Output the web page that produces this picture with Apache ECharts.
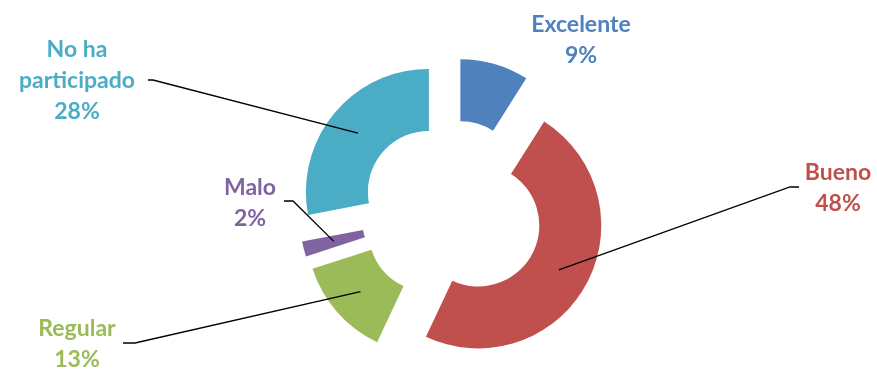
<!DOCTYPE html>
<html>
<head>
<meta charset="utf-8">
<script src="https://cdn.jsdelivr.net/npm/echarts@6/dist/echarts.min.js"></script>
<style>
  html, body { margin: 0; padding: 0; background: #fff; }
  #chart { width: 877px; height: 371px; }
</style>
</head>
<body>
<div id="chart"></div>
<script>
// datos del gráfico
const categories = ['Excelente', 'Bueno', 'Regular', 'Malo', 'No ha participado']
const labelNames = ['Excelente', 'Bueno', 'Regular', 'Malo', 'No ha\nparticipado']
const values = [9, 48, 13, 2, 28]
const colors = ['#4F81BD', '#C0504D', '#9BBB59', '#8064A2', '#4BACC6']

// geometría del anillo
const cx = 452, cy = 211
const rIn = 61, rOut = 123
const explode = 30

// posición de las etiquetas y codo de la línea guía
const labelSpots = [
  { x: 581, y: 40 },
  { x: 838, y: 188, elbow: [[799, 187], [790, 187]] },
  { x: 77, y: 344, elbow: [[123, 343], [135, 343]] },
  { x: 250, y: 203, elbow: [[284, 201], [293, 201]] },
  { x: 77, y: 81, elbow: [[148, 80], [153, 80]] },
]

const total = values.reduce((a, b) => a + b, 0)

// ángulo medio de cada sector (desde arriba, sentido horario)
const midAngle = (i) => {
  let cum = 0
  for (let k = 0; k < i; k++) cum += values[k]
  return ((cum + values[i] / 2) / total) * 2 * Math.PI
}

// centro desplazado del sector i (efecto "explotado")
const sliceCenter = (i) => {
  const a = midAngle(i)
  return [cx + explode * Math.sin(a), cy - explode * Math.cos(a)]
}

// punto medio del anillo del sector i
const sliceMid = (i) => {
  const a = midAngle(i)
  const c = sliceCenter(i)
  const r = (rIn + rOut) / 2
  return [c[0] + r * Math.sin(a), c[1] - r * Math.cos(a)]
}

const chart = echarts.init(document.getElementById('chart'))

const base = {
  type: 'pie',
  radius: [rIn, rOut],
  startAngle: 90,
  clockwise: true,
  avoidLabelOverlap: false,
  emphasis: { disabled: true },
  silent: true,
}

// una serie por sector, cada una con su centro desplazado
const sliceSeries = categories.map((_, i) => ({
  ...base,
  z: 2,
  center: sliceCenter(i),
  label: { show: false },
  labelLine: { show: false },
  data: categories.map((name, k) => ({
    name: name,
    value: values[k],
    itemStyle: { color: k === i ? colors[k] : 'rgba(0,0,0,0)' },
  })),
}))

// serie transparente encima, solo para etiquetas y líneas guía
const labelSeries = {
  ...base,
  z: 5,
  center: [cx, cy],
  label: {
    show: true,
    fontFamily: 'Lato',
    fontWeight: 'bold',
    fontSize: 23,
    lineHeight: 31,
    align: 'center',
    formatter: (p) => labelNames[p.dataIndex] + '\n' + p.value + '%',
  },
  labelLine: { show: true, lineStyle: { color: '#000', width: 1.3 } },
  labelLayout: (p) => {
    const s = labelSpots[p.dataIndex]
    const out = { x: s.x, y: s.y, align: 'center', verticalAlign: 'middle' }
    if (s.elbow) out.labelLinePoints = [sliceMid(p.dataIndex), s.elbow[1], s.elbow[0]]
    return out
  },
  data: categories.map((name, k) => ({
    name: name,
    value: values[k],
    itemStyle: { color: 'rgba(0,0,0,0)' },
    label: { color: colors[k] },
    labelLine: { show: k !== 0 },
  })),
}

chart.setOption({ animation: false, series: [...sliceSeries, labelSeries] })
</script>
</body>
</html>
